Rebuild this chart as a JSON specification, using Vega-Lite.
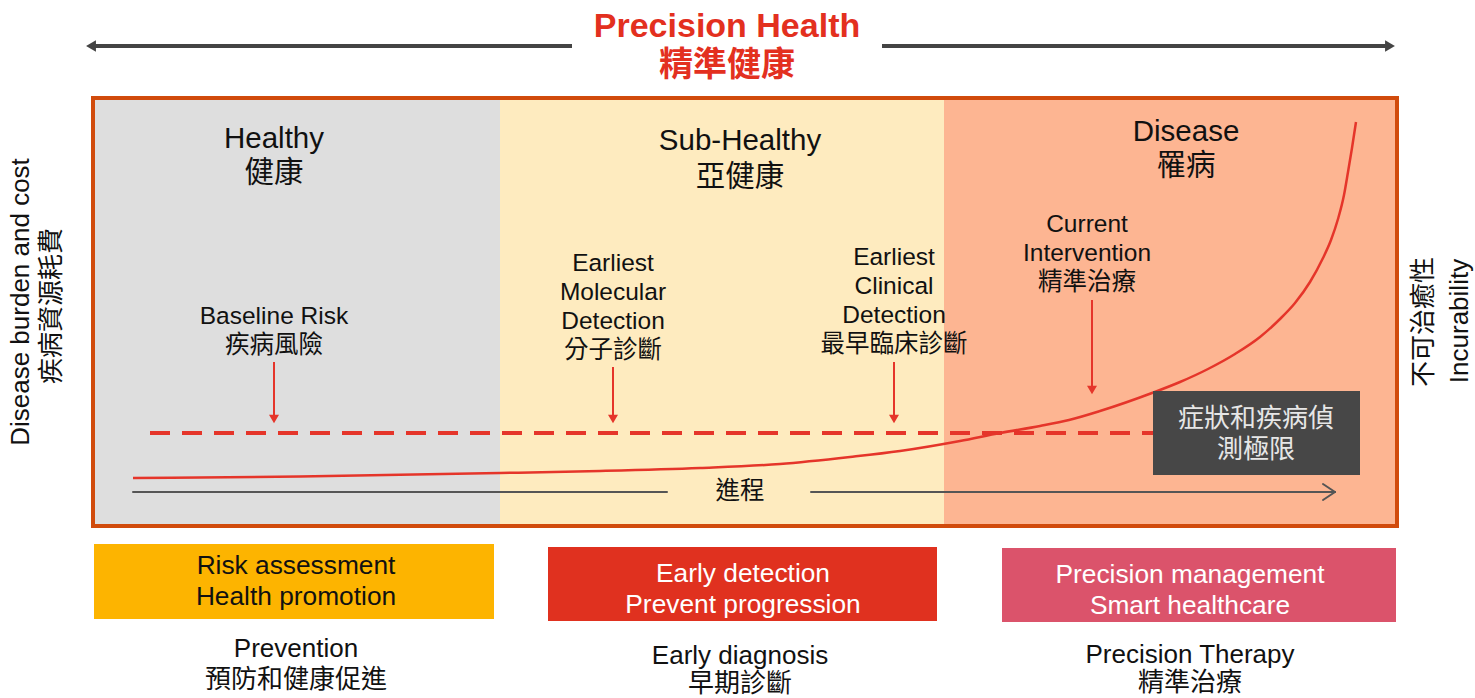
{
  "$schema": "https://vega.github.io/schema/vega-lite/v6.json",
  "width": 1475,
  "height": 698,
  "padding": 0,
  "autosize": {"type": "none"},
  "background": "white",
  "config": {"view": {"stroke": null}, "text": {"font": "Liberation Sans, Noto Sans CJK TC", "baseline": "middle", "align": "center"}},
  "encoding": {
    "x": {"field": "x", "type": "quantitative", "scale": {"domain": [0, 1475], "nice": false, "zero": false}, "axis": null},
    "y": {"field": "y", "type": "quantitative", "scale": {"domain": [0, 698], "nice": false, "zero": false, "reverse": true}, "axis": null}
  },
  "layer": [
    {
      "data": {"values": [
        {"zone": "Healthy", "x": 95, "x2": 500, "y": 100, "y2": 524},
        {"zone": "Sub-Healthy", "x": 500, "x2": 944, "y": 100, "y2": 524},
        {"zone": "Disease", "x": 944, "x2": 1395, "y": 100, "y2": 524},
        {"zone": "Prevention", "x": 94, "x2": 494, "y": 544, "y2": 619},
        {"zone": "Early diagnosis", "x": 548, "x2": 937, "y": 547, "y2": 621},
        {"zone": "Precision Therapy", "x": 1002, "x2": 1396, "y": 548, "y2": 622}
      ]},
      "mark": {"type": "rect"},
      "encoding": {
        "x2": {"field": "x2"},
        "y2": {"field": "y2"},
        "color": {"field": "zone", "type": "nominal", "legend": null,
          "scale": {"domain": ["Healthy", "Sub-Healthy", "Disease", "Prevention", "Early diagnosis", "Precision Therapy"],
                    "range": ["#DEDEDE", "#FEEBBF", "#FDB592", "#FDB400", "#E0311F", "#DB536B"]}}
      }
    },
    {
      "data": {"values": [{"x": 93, "x2": 1397, "y": 98, "y2": 526}]},
      "mark": {"type": "rect", "fill": null, "fillOpacity": 0, "stroke": "#D14B0C", "strokeWidth": 4},
      "encoding": {"x2": {"field": "x2"}, "y2": {"field": "y2"}}
    },
    {
      "data": {"values": [{"x": 150, "x2": 1153, "y": 433}]},
      "mark": {"type": "rule", "color": "#E5352A", "strokeWidth": 4, "strokeDash": [20, 12]},
      "encoding": {"x2": {"field": "x2"}}
    },
    {
      "data": {"values": [
        {"x": 133, "y": 478}, {"x": 300, "y": 476.5}, {"x": 500, "y": 473}, {"x": 600, "y": 471},
        {"x": 700, "y": 468}, {"x": 780, "y": 464}, {"x": 850, "y": 457}, {"x": 900, "y": 451},
        {"x": 960, "y": 441}, {"x": 1000, "y": 433}, {"x": 1040, "y": 426}, {"x": 1069, "y": 420},
        {"x": 1100, "y": 411}, {"x": 1152, "y": 393}, {"x": 1180, "y": 382}, {"x": 1208, "y": 369},
        {"x": 1235, "y": 354}, {"x": 1260, "y": 337}, {"x": 1280, "y": 319}, {"x": 1295, "y": 303},
        {"x": 1310, "y": 282}, {"x": 1323, "y": 258}, {"x": 1331, "y": 240}, {"x": 1338, "y": 219},
        {"x": 1344, "y": 195}, {"x": 1348, "y": 172}, {"x": 1352, "y": 148}, {"x": 1356, "y": 122}
      ]},
      "mark": {"type": "line", "color": "#E5352A", "strokeWidth": 2.5, "interpolate": "monotone"},
      "encoding": {"order": {"field": "x", "type": "quantitative"}}
    },
    {
      "data": {"values": [{"x": 1153, "x2": 1360, "y": 391, "y2": 475}]},
      "mark": {"type": "rect", "color": "#474747"},
      "encoding": {"x2": {"field": "x2"}, "y2": {"field": "y2"}}
    },
    {
      "data": {"values": [
        {"x": 274, "y": 362, "y2": 416},
        {"x": 613, "y": 367, "y2": 416},
        {"x": 894, "y": 362, "y2": 416},
        {"x": 1092, "y": 300, "y2": 387}
      ]},
      "mark": {"type": "rule", "color": "#E5352A", "strokeWidth": 2},
      "encoding": {"y2": {"field": "y2"}}
    },
    {
      "data": {"values": [
        {"x": 274, "y": 419}, {"x": 613, "y": 419}, {"x": 894, "y": 419}, {"x": 1092, "y": 390}
      ]},
      "mark": {"type": "point", "shape": "triangle-down", "filled": true, "color": "#E5352A", "size": 100, "opacity": 1},
      "encoding": {}
    },
    {
      "data": {"values": [
        {"x": 133, "x2": 667, "y": 492, "y2": 492},
        {"x": 811, "x2": 1335, "y": 492, "y2": 492},
        {"x": 1323, "x2": 1335, "y": 484, "y2": 492},
        {"x": 1323, "x2": 1335, "y": 500, "y2": 492}
      ]},
      "mark": {"type": "rule", "color": "#555555", "strokeWidth": 2, "strokeCap": "round"},
      "encoding": {"x2": {"field": "x2"}, "y2": {"field": "y2"}}
    },
    {
      "data": {"values": [
        {"x": 92, "x2": 572, "y": 46},
        {"x": 882, "x2": 1388, "y": 46}
      ]},
      "mark": {"type": "rule", "color": "#444444", "strokeWidth": 4},
      "encoding": {"x2": {"field": "x2"}}
    },
    {
      "data": {"values": [{"x": 91, "y": 46, "dir": "left"}]},
      "mark": {"type": "point", "shape": "triangle-left", "filled": true, "color": "#444444", "size": 130, "opacity": 1},
      "encoding": {}
    },
    {
      "data": {"values": [{"x": 1390, "y": 46, "dir": "right"}]},
      "mark": {"type": "point", "shape": "triangle-right", "filled": true, "color": "#444444", "size": 130, "opacity": 1},
      "encoding": {}
    },
    {
      "data": {"values": [
        {"x": 727, "y": 27, "label": "Precision Health"},
        {"x": 727, "y": 66, "label": "精準健康"}
      ]},
      "mark": {"type": "text", "fontSize": 34, "fontWeight": "bold", "color": "#E3301F"},
      "encoding": {"text": {"field": "label"}}
    },
    {
      "data": {"values": [
        {"x": 274, "y": 139, "label": "Healthy"},
        {"x": 274, "y": 173, "label": "健康"},
        {"x": 740, "y": 141, "label": "Sub-Healthy"},
        {"x": 740, "y": 177, "label": "亞健康"},
        {"x": 1186, "y": 132, "label": "Disease"},
        {"x": 1186, "y": 166, "label": "罹病"}
      ]},
      "mark": {"type": "text", "fontSize": 29.5, "color": "#111111"},
      "encoding": {"text": {"field": "label"}}
    },
    {
      "data": {"values": [
        {"x": 274, "y": 317, "label": "Baseline Risk"},
        {"x": 274, "y": 346, "label": "疾病風險"},
        {"x": 613, "y": 264, "label": "Earliest"},
        {"x": 613, "y": 293, "label": "Molecular"},
        {"x": 613, "y": 322, "label": "Detection"},
        {"x": 613, "y": 351, "label": "分子診斷"},
        {"x": 894, "y": 258, "label": "Earliest"},
        {"x": 894, "y": 287, "label": "Clinical"},
        {"x": 894, "y": 316, "label": "Detection"},
        {"x": 894, "y": 345, "label": "最早臨床診斷"},
        {"x": 1087, "y": 225, "label": "Current"},
        {"x": 1087, "y": 254, "label": "Intervention"},
        {"x": 1087, "y": 283, "label": "精準治療"},
        {"x": 740, "y": 492, "label": "進程"}
      ]},
      "mark": {"type": "text", "fontSize": 24.5, "color": "#111111"},
      "encoding": {"text": {"field": "label"}}
    },
    {
      "data": {"values": [
        {"x": 1256, "y": 419, "label": "症狀和疾病偵"},
        {"x": 1256, "y": 450, "label": "測極限"}
      ]},
      "mark": {"type": "text", "fontSize": 26, "color": "#E6E6E6"},
      "encoding": {"text": {"field": "label"}}
    },
    {
      "data": {"values": [
        {"x": 21, "y": 302, "label": "Disease burden and cost"},
        {"x": 52, "y": 306, "label": "疾病資源耗費"},
        {"x": 1424, "y": 322, "label": "不可治癒性"},
        {"x": 1460, "y": 321, "label": "Incurability"}
      ]},
      "mark": {"type": "text", "fontSize": 26, "angle": 270, "color": "#111111"},
      "encoding": {"text": {"field": "label"}}
    },
    {
      "data": {"values": [
        {"x": 296, "y": 566, "label": "Risk assessment"},
        {"x": 296, "y": 597, "label": "Health promotion"}
      ]},
      "mark": {"type": "text", "fontSize": 26.3, "color": "#111111"},
      "encoding": {"text": {"field": "label"}}
    },
    {
      "data": {"values": [
        {"x": 296, "y": 649, "label": "Prevention"},
        {"x": 296, "y": 680, "label": "預防和健康促進"},
        {"x": 740, "y": 656, "label": "Early diagnosis"},
        {"x": 740, "y": 684, "label": "早期診斷"},
        {"x": 1190, "y": 655, "label": "Precision Therapy"},
        {"x": 1190, "y": 683, "label": "精準治療"}
      ]},
      "mark": {"type": "text", "fontSize": 26, "color": "#111111"},
      "encoding": {"text": {"field": "label"}}
    },
    {
      "data": {"values": [
        {"x": 743, "y": 574, "label": "Early detection"},
        {"x": 743, "y": 605, "label": "Prevent progression"},
        {"x": 1190, "y": 575, "label": "Precision management"},
        {"x": 1190, "y": 606, "label": "Smart healthcare"}
      ]},
      "mark": {"type": "text", "fontSize": 26.3, "color": "#FFFFFF"},
      "encoding": {"text": {"field": "label"}}
    }
  ]
}
